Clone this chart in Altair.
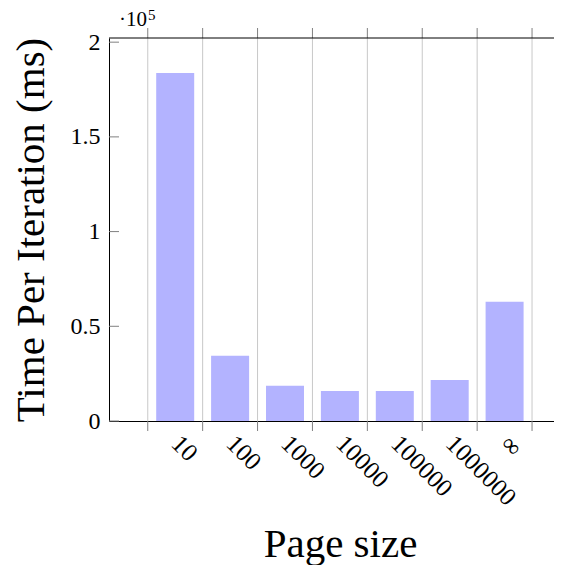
import altair as alt
import pandas as pd

categories = ["10", "100", "1000", "10000", "100000", "1000000", "∞"]
times_ms = [183700, 34500, 18600, 15800, 15800, 21700, 63000]
y_ticks = [0, 50000, 100000, 150000, 200000]

W, H = 445, 383
X_DOMAIN = [-1.206, 6.900]
Y_DOMAIN = [0, 202200]
FONT = "Liberation Serif"

bars_df = pd.DataFrame({"pos": list(range(len(categories))), "val": times_ms, "cat": categories})
grid_df = pd.DataFrame({"pos": [i - 0.5 for i in range(len(categories) + 1)]})
ytick_df = pd.DataFrame({"val": y_ticks})

label_expr = "[" + ",".join("'%s'" % c for c in categories) + "][datum.value]"

x_axis = alt.Axis(
    values=list(range(len(categories))), labelExpr=label_expr,
    grid=False, ticks=False, tickSize=0, domain=True, domainColor="black", domainWidth=1,
    labelAngle=45, labelAlign="left", labelBaseline="middle", labelPadding=18,
    labelFont=FONT, labelFontSize=25, labelColor="black",
    labelFlush=False, labelOverlap=False, labelBound=False,
    title="Page size", titleFont=FONT, titleFontSize=41, titleFontWeight="normal",
    titleColor="black", titleX=231, titleY=135, titleBaseline="alphabetic", titleAlign="center",
)
y_axis = alt.Axis(
    values=y_ticks, labelExpr="format(datum.value/100000,'~g')",
    grid=False, ticks=False, tickSize=0, domain=True, domainColor="black", domainWidth=1,
    labelPadding=9, labelFont=FONT, labelFontSize=24, labelColor="black",
    labelFlush=False, labelOverlap=False, labelBound=False,
    title="Time Per Iteration (ms)", titleFont=FONT, titleFontSize=41, titleFontWeight="normal",
    titleColor="black", titleX=-66, titleY=H / 2, titleAngle=270,
    titleBaseline="alphabetic", titleAlign="center",
)

xs = alt.X("pos:Q", scale=alt.Scale(domain=X_DOMAIN, nice=False, zero=False, padding=0), axis=x_axis)
ys = alt.Y("val:Q", scale=alt.Scale(domain=Y_DOMAIN, nice=False, zero=True, padding=0), axis=y_axis)

grid = alt.Chart(grid_df).mark_rule(color="#c8c8c8", strokeWidth=1).encode(
    x=xs, y=alt.value(0), y2=alt.value(H))
bars = alt.Chart(bars_df).mark_bar(color="#b3b3ff", width=38).encode(x=xs, y=ys)
stub_top = alt.Chart(grid_df).mark_rule(color="#808080", strokeWidth=1).encode(
    x=xs, y=alt.value(-10), y2=alt.value(0))
stub_bot = alt.Chart(grid_df).mark_rule(color="#808080", strokeWidth=1).encode(
    x=xs, y=alt.value(H), y2=alt.value(H + 10))
ytick_l = alt.Chart(ytick_df).mark_rule(color="#808080", strokeWidth=1).encode(
    y=ys, x=alt.value(0), x2=alt.value(10))
top_border = alt.Chart(pd.DataFrame({"a": [0]})).mark_rule(color="black", strokeWidth=1).encode(
    x=alt.value(0), x2=alt.value(W), y=alt.value(0))
exp_base = alt.Chart(pd.DataFrame({"t": ["·10"]})).mark_text(
    font=FONT, fontSize=21, align="left", baseline="alphabetic", color="black").encode(
    x=alt.value(10), y=alt.value(-12.5), text="t:N")
exp_sup = alt.Chart(pd.DataFrame({"t": ["5"]})).mark_text(
    font=FONT, fontSize=15, align="left", baseline="alphabetic", color="black").encode(
    x=alt.value(39), y=alt.value(-18.5), text="t:N")

chart = alt.layer(grid, bars, stub_top, stub_bot, ytick_l, top_border, exp_base, exp_sup).properties(
    width=W, height=H,
    padding={"left": 101, "top": 30, "right": 0, "bottom": 144},
    autosize=alt.AutoSizeParams(type="none"),
).configure_view(stroke="transparent")

chart.save("out.html", embed_options={"renderer": "svg", "actions": False})
